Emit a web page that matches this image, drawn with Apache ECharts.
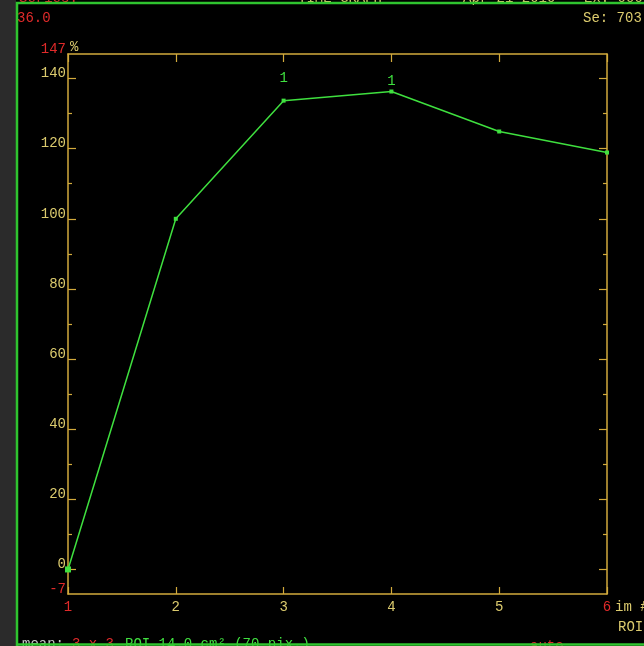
<!DOCTYPE html>
<html>
<head>
<meta charset="utf-8">
<style>
  html, body { margin: 0; padding: 0; background: #000; }
  #chart { width: 644px; height: 646px; }
</style>
<script src="https://cdn.jsdelivr.net/npm/echarts@6/dist/echarts.min.js"></script>
</head>
<body>
<div id="chart"></div>
<script>
// Image numbers along the time axis
const imageNumbers = [1, 2, 3, 4, 5, 6];
// ROI mean intensity, percent of reference
const roiPercent = [0, 100, 133.7, 136.3, 124.9, 118.9];
// Images carrying the ROI marker "1"
const roiMarkImages = [3, 4];
const roiMarkText = '1';

// Vertical scale
const yMin = -7;
const yMax = 147;
const yMajorTicks = [0, 20, 40, 60, 80, 100, 120, 140];
const yMinorTicks = [10, 30, 50, 70, 90, 110, 130];
const yTickLabels = [-7, 0, 20, 40, 60, 80, 100, 120, 140, 147];
const yUnit = '%';

const RED = '#e02a2a';
const YELLOW = '#dccb6e';
const AXIS = '#d2aa3c';
const GREEN = '#3fe03f';
const FRAME = '#2fc42f';
const FONT = '"Liberation Mono", "DejaVu Sans Mono", monospace';
const FS = 14;
const F = FS + 'px ' + FONT;

const chart = echarts.init(document.getElementById('chart'), null, { renderer: 'canvas' });

// per-image label offset above the point for the ROI marker
const markDistance = { 3: 13, 4: 1 };

const lineData = imageNumbers.map((x, i) => {
  const item = { value: [x, roiPercent[i]] };
  if (roiMarkImages.indexOf(x) >= 0) {
    item.label = {
      show: true,
      position: 'top',
      distance: markDistance[x],
      formatter: roiMarkText,
      color: GREEN,
      fontFamily: FONT,
      fontSize: FS
    };
  }
  return item;
});

const edgeColor = (v, xs) => (xs.indexOf(Number(v)) >= 0 ? RED : YELLOW);

function yAxisBase(pos) {
  return {
    type: 'value',
    position: pos,
    min: yMin,
    max: yMax,
    splitLine: { show: false },
    axisLine: { show: true, lineStyle: { color: AXIS, width: 1.5 } },
    axisLabel: { show: false },
    axisTick: { show: true, inside: true, length: 8, lineStyle: { color: AXIS, width: 1.2 }, customValues: yMajorTicks }
  };
}
function yMinorAxis(pos) {
  return {
    type: 'value',
    position: pos,
    min: yMin,
    max: yMax,
    splitLine: { show: false },
    axisLine: { show: false },
    axisLabel: { show: false },
    axisTick: { show: true, inside: true, length: 4, lineStyle: { color: AXIS, width: 1.2 }, customValues: yMinorTicks }
  };
}

const leftAxis = yAxisBase('left');
leftAxis.axisLabel = {
  show: true,
  customValues: yTickLabels,
  margin: 2,
  fontFamily: FONT,
  fontSize: FS,
  verticalAlign: 'bottom',
  lineHeight: 10,
  color: (v) => edgeColor(v, [yMin, yMax])
};

const option = {
  backgroundColor: '#000',
  animation: false,
  grid: { left: 68, top: 54, width: 539, height: 540, containLabel: false },
  xAxis: [
    {
      type: 'value',
      position: 'bottom',
      min: imageNumbers[0],
      max: imageNumbers[imageNumbers.length - 1],
      interval: 1,
      splitLine: { show: false },
      axisLine: { show: true, onZero: false, lineStyle: { color: AXIS, width: 1.5 } },
      axisTick: { show: true, inside: true, length: 7, lineStyle: { color: AXIS, width: 1.2 } },
      axisLabel: {
        margin: 6,
        fontFamily: FONT,
        fontSize: FS,
        color: (v) => edgeColor(v, [imageNumbers[0], imageNumbers[imageNumbers.length - 1]])
      }
    },
    {
      type: 'value',
      position: 'top',
      min: imageNumbers[0],
      max: imageNumbers[imageNumbers.length - 1],
      interval: 1,
      splitLine: { show: false },
      axisLine: { show: true, onZero: false, lineStyle: { color: AXIS, width: 1.5 } },
      axisTick: { show: true, inside: true, length: 8, lineStyle: { color: AXIS, width: 1.2 } },
      axisLabel: { show: false }
    }
  ],
  yAxis: [leftAxis, yMinorAxis('left'), yAxisBase('right'), yMinorAxis('right')],
  series: [
    {
      type: 'line',
      xAxisIndex: 0,
      yAxisIndex: 0,
      data: lineData,
      symbol: 'rect',
      symbolSize: (val, p) => (p.dataIndex === 0 ? 6 : 4),
      showSymbol: true,
      lineStyle: { color: GREEN, width: 1.5 },
      itemStyle: { color: GREEN },
      clip: false,
      z: 5
    }
  ],
  graphic: [
    // dark side strip and green window frame
    { type: 'rect', shape: { x: 0, y: 0, width: 16, height: 646 }, style: { fill: '#2b2b2b' }, z: 10 },
    { type: 'polyline', shape: { points: [[17, 646], [17, 3], [644, 3]] }, style: { stroke: FRAME, lineWidth: 2.5, fill: null }, z: 20 },
    { type: 'line', shape: { x1: 17, y1: 644.5, x2: 644, y2: 644.5 }, style: { stroke: FRAME, lineWidth: 2.5 }, z: 20 },
    // header lines
    { type: 'text', x: 19, y: -9, style: { text: 'Series:', fill: RED, font: F }, z: 15 },
    { type: 'text', x: 298, y: -9, style: { text: 'TIME GRAPH', fill: YELLOW, font: F }, z: 15 },
    { type: 'text', x: 463, y: -9, style: { text: 'Apr 21 2010', fill: YELLOW, font: F }, z: 15 },
    { type: 'text', x: 584, y: -9, style: { text: 'Ex: 0000', fill: YELLOW, font: F }, z: 15 },
    { type: 'text', x: 17, y: 11, style: { text: '36.0', fill: RED, font: F }, z: 15 },
    { type: 'text', x: 583, y: 11, style: { text: 'Se: 703', fill: YELLOW, font: F }, z: 15 },
    // unit of the vertical axis
    { type: 'text', x: 70, y: 40, style: { text: yUnit, fill: YELLOW, font: F }, z: 15 },
    // axis captions at the lower right
    { type: 'text', x: 615, y: 600, style: { text: 'im #', fill: YELLOW, font: F }, z: 15 },
    { type: 'text', x: 618, y: 620, style: { text: 'ROI', fill: YELLOW, font: F }, z: 15 },
    // footer line
    { type: 'text', x: 22, y: 637, style: { text: 'mean:', fill: '#c8c8c8', font: F }, z: 15 },
    { type: 'text', x: 72, y: 637, style: { text: '3 x 3', fill: RED, font: F }, z: 15 },
    { type: 'text', x: 125, y: 637, style: { text: 'ROI 14.0 cm² (70 pix.)', fill: GREEN, font: F }, z: 15 },
    { type: 'text', x: 530, y: 639, style: { text: 'auto', fill: RED, font: F }, z: 15 }
  ]
};

chart.setOption(option);
</script>
</body>
</html>
